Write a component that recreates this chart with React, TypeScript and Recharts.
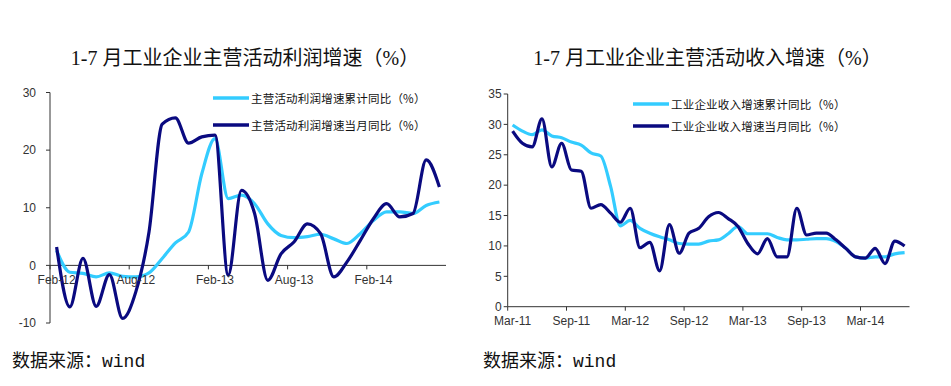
import React from 'react';
import { LineChart, Line, XAxis, YAxis, ReferenceLine } from 'recharts';

// ---------- Data ----------
const profitMonths = [
  'Feb-12', 'Mar-12', 'Apr-12', 'May-12', 'Jun-12', 'Jul-12', 'Aug-12', 'Sep-12', 'Oct-12', 'Nov-12', 'Dec-12',
  'Jan-13', 'Feb-13', 'Mar-13', 'Apr-13', 'May-13', 'Jun-13', 'Jul-13', 'Aug-13', 'Sep-13', 'Oct-13', 'Nov-13', 'Dec-13',
  'Jan-14', 'Feb-14', 'Mar-14', 'Apr-14', 'May-14', 'Jun-14', 'Jul-14',
];
const profitCumulative = [
  2.6, -1.2, -1.4, -2.0, -1.3, -1.9, -2.0, -1.3, 1.2, 3.9, 5.8,
  15.9, 22.0, 11.6, 12.2, 10.7, 7.2, 5.2, 4.8, 5.0, 5.4, 4.6, 3.8,
  5.5, 7.8, 9.3, 9.3, 9.0, 10.4, 11.0,
];
const profitMonthly = [
  3.2, -7.2, 1.2, -7.1, -1.6, -9.2, -4.6, 5.8, 24.5, 25.6, 21.2,
  22.3, 22.6, -1.7, 13.0, 9.0, -2.6, 2.0, 4.1, 7.2, 5.5, -2.0, 0.6,
  4.3, 8.1, 10.7, 8.4, 9.0, 18.3, 13.6,
];
const profitTicks = [0, 6, 12, 18, 24];
const profitYTicks = [-10, 0, 10, 20, 30];

const revenueMonths = [
  'Mar-11', 'Apr-11', 'May-11', 'Jun-11', 'Jul-11', 'Aug-11', 'Sep-11', 'Oct-11', 'Nov-11', 'Dec-11',
  'Jan-12', 'Feb-12', 'Mar-12', 'Apr-12', 'May-12', 'Jun-12', 'Jul-12', 'Aug-12', 'Sep-12', 'Oct-12', 'Nov-12', 'Dec-12',
  'Jan-13', 'Feb-13', 'Mar-13', 'Apr-13', 'May-13', 'Jun-13', 'Jul-13', 'Aug-13', 'Sep-13', 'Oct-13', 'Nov-13', 'Dec-13',
  'Jan-14', 'Feb-14', 'Mar-14', 'Apr-14', 'May-14', 'Jun-14', 'Jul-14',
];
const revenueCumulative = [
  29.9, 28.9, 28.3, 29.1, 28.1, 27.8, 27.1, 26.6, 25.3, 24.8,
  19.8, 13.3, 14.2, 12.9, 12.1, 11.5, 11.0, 10.4, 10.3, 10.3, 10.8, 11.0,
  12.0, 13.2, 12.0, 12.0, 12.0, 11.4, 11.0, 11.0, 11.1, 11.2, 11.2, 10.7,
  9.6, 8.2, 8.0, 8.2, 8.2, 8.7, 8.9,
];
const revenueMonthly = [
  28.9, 26.9, 26.3, 30.9, 23.0, 26.9, 22.5, 22.3, 16.2, 16.8,
  15.4, 13.9, 16.2, 9.7, 10.6, 5.9, 13.5, 8.8, 12.1, 12.9, 14.8, 15.5,
  14.5, 13.2, 10.4, 8.7, 11.2, 8.2, 8.2, 16.2, 11.8, 12.1, 12.1, 11.0,
  9.6, 8.2, 8.0, 9.6, 7.1, 10.8, 10.0,
];
const revenueTicks = [0, 6, 12, 18, 24, 30, 36];
const revenueYTicks = [0, 5, 10, 15, 20, 25, 30, 35];

const profitTitle = '1-7 月工业企业主营活动利润增速（%）';
const revenueTitle = '1-7 月工业企业主营活动收入增速（%）';
const profitNames = ['主营活动利润增速累计同比（%）', '主营活动利润增速当月同比（%）'];
const revenueNames = ['工业企业收入增速累计同比（%）', '工业企业收入增速当月同比（%）'];
const sourceText = '数据来源：';
const sourceWord = 'wind';

// ---------- Styles ----------
const CYAN = '#33CCFF';
const NAVY = '#0A0A80';
const AXIS = '#333333';
const TICK_FONT = '"Liberation Sans", Arial, sans-serif';
const CJK_FONT = '"Liberation Serif", "Noto Sans CJK SC", serif';

const profitData = profitMonths.map((m, i) => ({ idx: i, month: m, cum: profitCumulative[i], mon: profitMonthly[i] }));
const revenueData = revenueMonths.map((m, i) => ({ idx: i, month: m, cum: revenueCumulative[i], mon: revenueMonthly[i] }));

// layout
const L = { w: 460, h: 386, left: 0, top: 92.5, yW: 50, plotW: 396, plotH: 230.5, xAxisH: 20 };
const R = { w: 481, h: 386, left: 470, top: 94, yW: 37.7, plotW: 401.8, plotH: 212.7, xAxisH: 20 };

const makeTick = (labels: string[], halfBand: number, shiftUp: number, labelDy: number) => (props: any) => {
  const { x, y, payload } = props;
  const zeroY = y - shiftUp;
  return (
    <g>
      <line x1={x - halfBand} x2={x - halfBand} y1={zeroY} y2={zeroY + 4} stroke={AXIS} strokeWidth={1} />
      <text
        x={x}
        y={zeroY + labelDy}
        textAnchor="middle"
        dominantBaseline="central"
        fontSize={12}
        fontFamily={TICK_FONT}
        fill={AXIS}
      >
        {labels[payload.value]}
      </text>
    </g>
  );
};

function LegendBox({ names, left, top, gap }: { names: string[]; left: number; top: number; gap: number }) {
  return (
    <div style={{ position: 'absolute', left, top, display: 'flex', flexDirection: 'column', gap }}>
      {names.map((n, i) => (
        <div key={n} style={{ display: 'flex', alignItems: 'center', height: 14 }}>
          <svg width={36} height={6} style={{ display: 'block' }}>
            <line x1={0} x2={36} y1={3} y2={3} stroke={i === 0 ? CYAN : NAVY} strokeWidth={3.5} />
          </svg>
          <span
            style={{
              marginLeft: 2,
              fontSize: 11.5,
              letterSpacing: 0.2,
              fontFamily: '"Noto Sans CJK SC", sans-serif',
              color: '#111',
              whiteSpace: 'nowrap',
              lineHeight: '14px',
            }}
          >
            {n}
          </span>
        </div>
      ))}
    </div>
  );
}

const yTickStyle = { fontSize: 12, fontFamily: TICK_FONT, fill: AXIS };

export default function App() {
  const leftShift = (L.plotH * (0 - -10)) / (30 - -10);
  const titleStyle: React.CSSProperties = {
    position: 'absolute', top: 44, textAlign: 'center',
    fontSize: 20, fontFamily: CJK_FONT, color: '#111', whiteSpace: 'nowrap', lineHeight: '28px',
  };
  const footStyle: React.CSSProperties = {
    position: 'absolute', top: 347, fontSize: 18, lineHeight: '24px', color: '#111', whiteSpace: 'nowrap',
  };
  return (
    <div style={{ position: 'absolute', left: 0, top: 0, width: 951, height: 386, background: '#fff', overflow: 'hidden' }}>
      <div style={{ ...titleStyle, left: 0, width: 490 }}>{profitTitle}</div>
      <div style={{ ...titleStyle, left: 462, width: 491 }}>{revenueTitle}</div>

      <div style={{ position: 'absolute', left: L.left, top: 0 }}>
        <LineChart
          width={L.w}
          height={L.h}
          data={profitData}
          margin={{ top: L.top, left: 0, right: L.w - L.yW - L.plotW, bottom: L.h - L.top - L.plotH - L.xAxisH }}
        >
          <XAxis
            dataKey="idx"
            type="number"
            domain={[-0.5, profitMonths.length - 0.5]}
            ticks={profitTicks}
            interval={0}
            axisLine={false}
            tickLine={false}
            tickSize={0}
            tickMargin={0}
            height={L.xAxisH}
            tick={makeTick(profitMonths, L.plotW / profitMonths.length / 2, leftShift, 15)}
          />
          <YAxis
            width={L.yW}
            domain={[-10, 30]}
            ticks={profitYTicks}
            interval={0}
            allowDataOverflow
            tickSize={4}
            tickMargin={10}
            axisLine={{ stroke: AXIS }}
            tickLine={{ stroke: AXIS }}
            tick={yTickStyle}
          />
          <ReferenceLine y={0} stroke={AXIS} strokeWidth={1} />
          <Line type="monotone" dataKey="cum" name={profitNames[0]} stroke={CYAN} strokeWidth={3.2} dot={false} isAnimationActive={false} />
          <Line type="monotone" dataKey="mon" name={profitNames[1]} stroke={NAVY} strokeWidth={3.2} dot={false} isAnimationActive={false} />
        </LineChart>
      </div>

      <div style={{ position: 'absolute', left: R.left, top: 0 }}>
        <LineChart
          width={R.w}
          height={R.h}
          data={revenueData}
          margin={{ top: R.top, left: 0, right: R.w - R.yW - R.plotW, bottom: R.h - R.top - R.plotH - R.xAxisH }}
        >
          <XAxis
            dataKey="idx"
            type="number"
            domain={[-0.5, revenueMonths.length - 0.5]}
            ticks={revenueTicks}
            interval={0}
            axisLine={{ stroke: AXIS }}
            tickLine={false}
            tickSize={0}
            tickMargin={0}
            height={R.xAxisH}
            tick={makeTick(revenueMonths, R.plotW / revenueMonths.length / 2, 0, 14)}
          />
          <YAxis
            width={R.yW}
            domain={[0, 35]}
            ticks={revenueYTicks}
            interval={0}
            tickSize={4}
            tickMargin={2}
            axisLine={{ stroke: AXIS }}
            tickLine={{ stroke: AXIS }}
            tick={yTickStyle}
          />
          <Line type="monotone" dataKey="cum" name={revenueNames[0]} stroke={CYAN} strokeWidth={3.2} dot={false} isAnimationActive={false} />
          <Line type="monotone" dataKey="mon" name={revenueNames[1]} stroke={NAVY} strokeWidth={3.2} dot={false} isAnimationActive={false} />
        </LineChart>
      </div>

      <LegendBox names={profitNames} left={213} top={91} gap={13} />
      <LegendBox names={revenueNames} left={633} top={97} gap={7.5} />

      <div style={{ ...footStyle, left: 12 }}>
        <span style={{ fontFamily: '"Noto Sans CJK SC", sans-serif' }}>{sourceText}</span>
        <span style={{ fontFamily: '"Liberation Mono", monospace' }}>{sourceWord}</span>
      </div>
      <div style={{ ...footStyle, left: 483 }}>
        <span style={{ fontFamily: '"Noto Sans CJK SC", sans-serif' }}>{sourceText}</span>
        <span style={{ fontFamily: '"Liberation Mono", monospace' }}>{sourceWord}</span>
      </div>
    </div>
  );
}
